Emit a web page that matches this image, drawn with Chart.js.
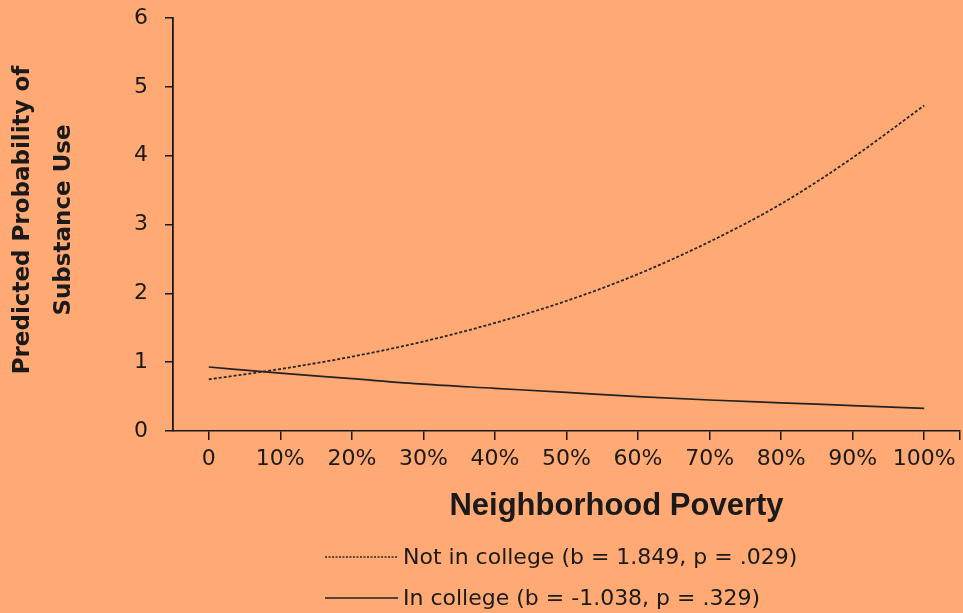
<!DOCTYPE html>
<html>
<head>
<meta charset="utf-8">
<script src="https://cdn.jsdelivr.net/npm/chart.js@4.4.1/dist/chart.umd.min.js"></script>
<style>
html, body { margin: 0; padding: 0; background: #FFA975; }
#wrap { width: 963px; height: 613px; }
</style>
</head>
<body>
<div id="wrap"><canvas id="povertyChart" width="963" height="613"></canvas></div>
<script>
const povertyLevels = [0, 10, 20, 30, 40, 50, 60, 70, 80, 90, 100];
const notInCollege = [0.75, 0.90, 1.08, 1.30, 1.57, 1.89, 2.28, 2.75, 3.30, 3.97, 4.73];
const inCollege = [0.93, 0.84, 0.76, 0.68, 0.62, 0.56, 0.50, 0.45, 0.41, 0.37, 0.33];
const yTicks = [0, 1, 2, 3, 4, 5, 6];
const seriesLabels = ['Not in college (b = 1.849, p = .029)', 'In college (b = -1.038, p = .329)'];
const xTitle = 'Neighborhood Poverty';
const yTitle = ['Predicted Probability of', 'Substance Use'];

const ink = '#1a1a1a';

// Orange page background behind everything
const backdrop = {
    id: 'backdrop',
    beforeDraw(chart) {
        const ctx = chart.ctx;
        ctx.save();
        ctx.fillStyle = '#FFA975';
        ctx.fillRect(0, 0, chart.width, chart.height);
        ctx.restore();
    }
};

// Axis titles (x title sits right of centre in the original)
const axisTitles = {
    id: 'axisTitles',
    afterDraw(chart) {
        const { ctx, chartArea } = chart;
        ctx.save();
        ctx.fillStyle = ink;
        ctx.textAlign = 'center';
        ctx.textBaseline = 'middle';
        ctx.font = 'bold 31px "Liberation Sans", Arial, sans-serif';
        ctx.fillText(xTitle, (chartArea.left + chartArea.right) / 2 + 50, 506);

        ctx.translate(43, 220);
        ctx.rotate(-Math.PI / 2);
        ctx.font = 'bold 23px "DejaVu Sans", sans-serif';
        ctx.fillText(yTitle[0], 0, -20);
        ctx.fillText(yTitle[1], 0, 21);
        ctx.restore();
    }
};

// Stacked line legend under the title
const lineLegend = {
    id: 'lineLegend',
    afterDraw(chart) {
        const ctx = chart.ctx;
        const rows = [557, 598];
        chart.data.datasets.forEach((ds, i) => {
            const y = rows[i];
            ctx.save();
            ctx.strokeStyle = ds.borderColor;
            ctx.lineWidth = 1.3;
            ctx.setLineDash(ds.borderDash ? [2, 1.5] : []);
            ctx.beginPath();
            ctx.moveTo(325, y);
            ctx.lineTo(398, y);
            ctx.stroke();
            ctx.setLineDash([]);
            ctx.fillStyle = ink;
            ctx.font = '22px "DejaVu Sans", sans-serif';
            ctx.textAlign = 'left';
            ctx.textBaseline = 'middle';
            ctx.fillText(ds.label, 403, y + 1);
            ctx.restore();
        });
    }
};

const ctx = document.getElementById('povertyChart').getContext('2d');
const povertyChart = new Chart(ctx, {
    type: 'line',
    data: {
        datasets: [{
            label: seriesLabels[0],
            data: povertyLevels.map((x, i) => ({ x: x, y: notInCollege[i] })),
            borderColor: '#262626',
            borderWidth: 1.8,
            borderDash: [3, 2],
            pointRadius: 0,
            cubicInterpolationMode: 'monotone',
            fill: false
        }, {
            label: seriesLabels[1],
            data: povertyLevels.map((x, i) => ({ x: x, y: inCollege[i] })),
            borderColor: '#222222',
            borderWidth: 1.7,
            pointRadius: 0,
            cubicInterpolationMode: 'monotone',
            fill: false
        }]
    },
    options: {
        responsive: false,
        animation: false,
        layout: {
            padding: { top: 18, right: 3, left: 0, bottom: 0 }
        },
        plugins: {
            legend: { display: false },
            tooltip: { enabled: false }
        },
        scales: {
            x: {
                type: 'linear',
                min: -5,
                max: 105,
                afterBuildTicks: scale => {
                    scale.ticks = povertyLevels.concat([105]).map(v => ({ value: v }));
                },
                afterFit: scale => {
                    scale.height = 613 - 431;
                    scale.paddingLeft = 0;
                    scale.paddingRight = 0;
                },
                grid: {
                    drawOnChartArea: false,
                    tickLength: 9,
                    color: ink,
                    lineWidth: 1.5
                },
                border: { display: true, color: ink, width: 1.5 },
                ticks: {
                    autoSkip: false,
                    maxRotation: 0,
                    padding: 6,
                    color: ink,
                    font: { family: '"DejaVu Sans", sans-serif', size: 22 },
                    callback: v => v === 0 ? '0' : (v <= 100 ? v + '%' : '')
                }
            },
            y: {
                min: 0,
                max: 6,
                afterBuildTicks: scale => {
                    scale.ticks = yTicks.map(v => ({ value: v }));
                },
                afterFit: scale => {
                    scale.width = 173;
                    scale.paddingTop = 0;
                    scale.paddingBottom = 0;
                },
                grid: {
                    drawOnChartArea: false,
                    tickLength: 8,
                    color: ink,
                    lineWidth: 1.5
                },
                border: { display: true, color: ink, width: 1.8 },
                ticks: {
                    padding: 17,
                    color: ink,
                    font: { family: '"DejaVu Sans", sans-serif', size: 22 }
                }
            }
        }
    },
    plugins: [backdrop, axisTitles, lineLegend]
});
</script>
</body>
</html>
